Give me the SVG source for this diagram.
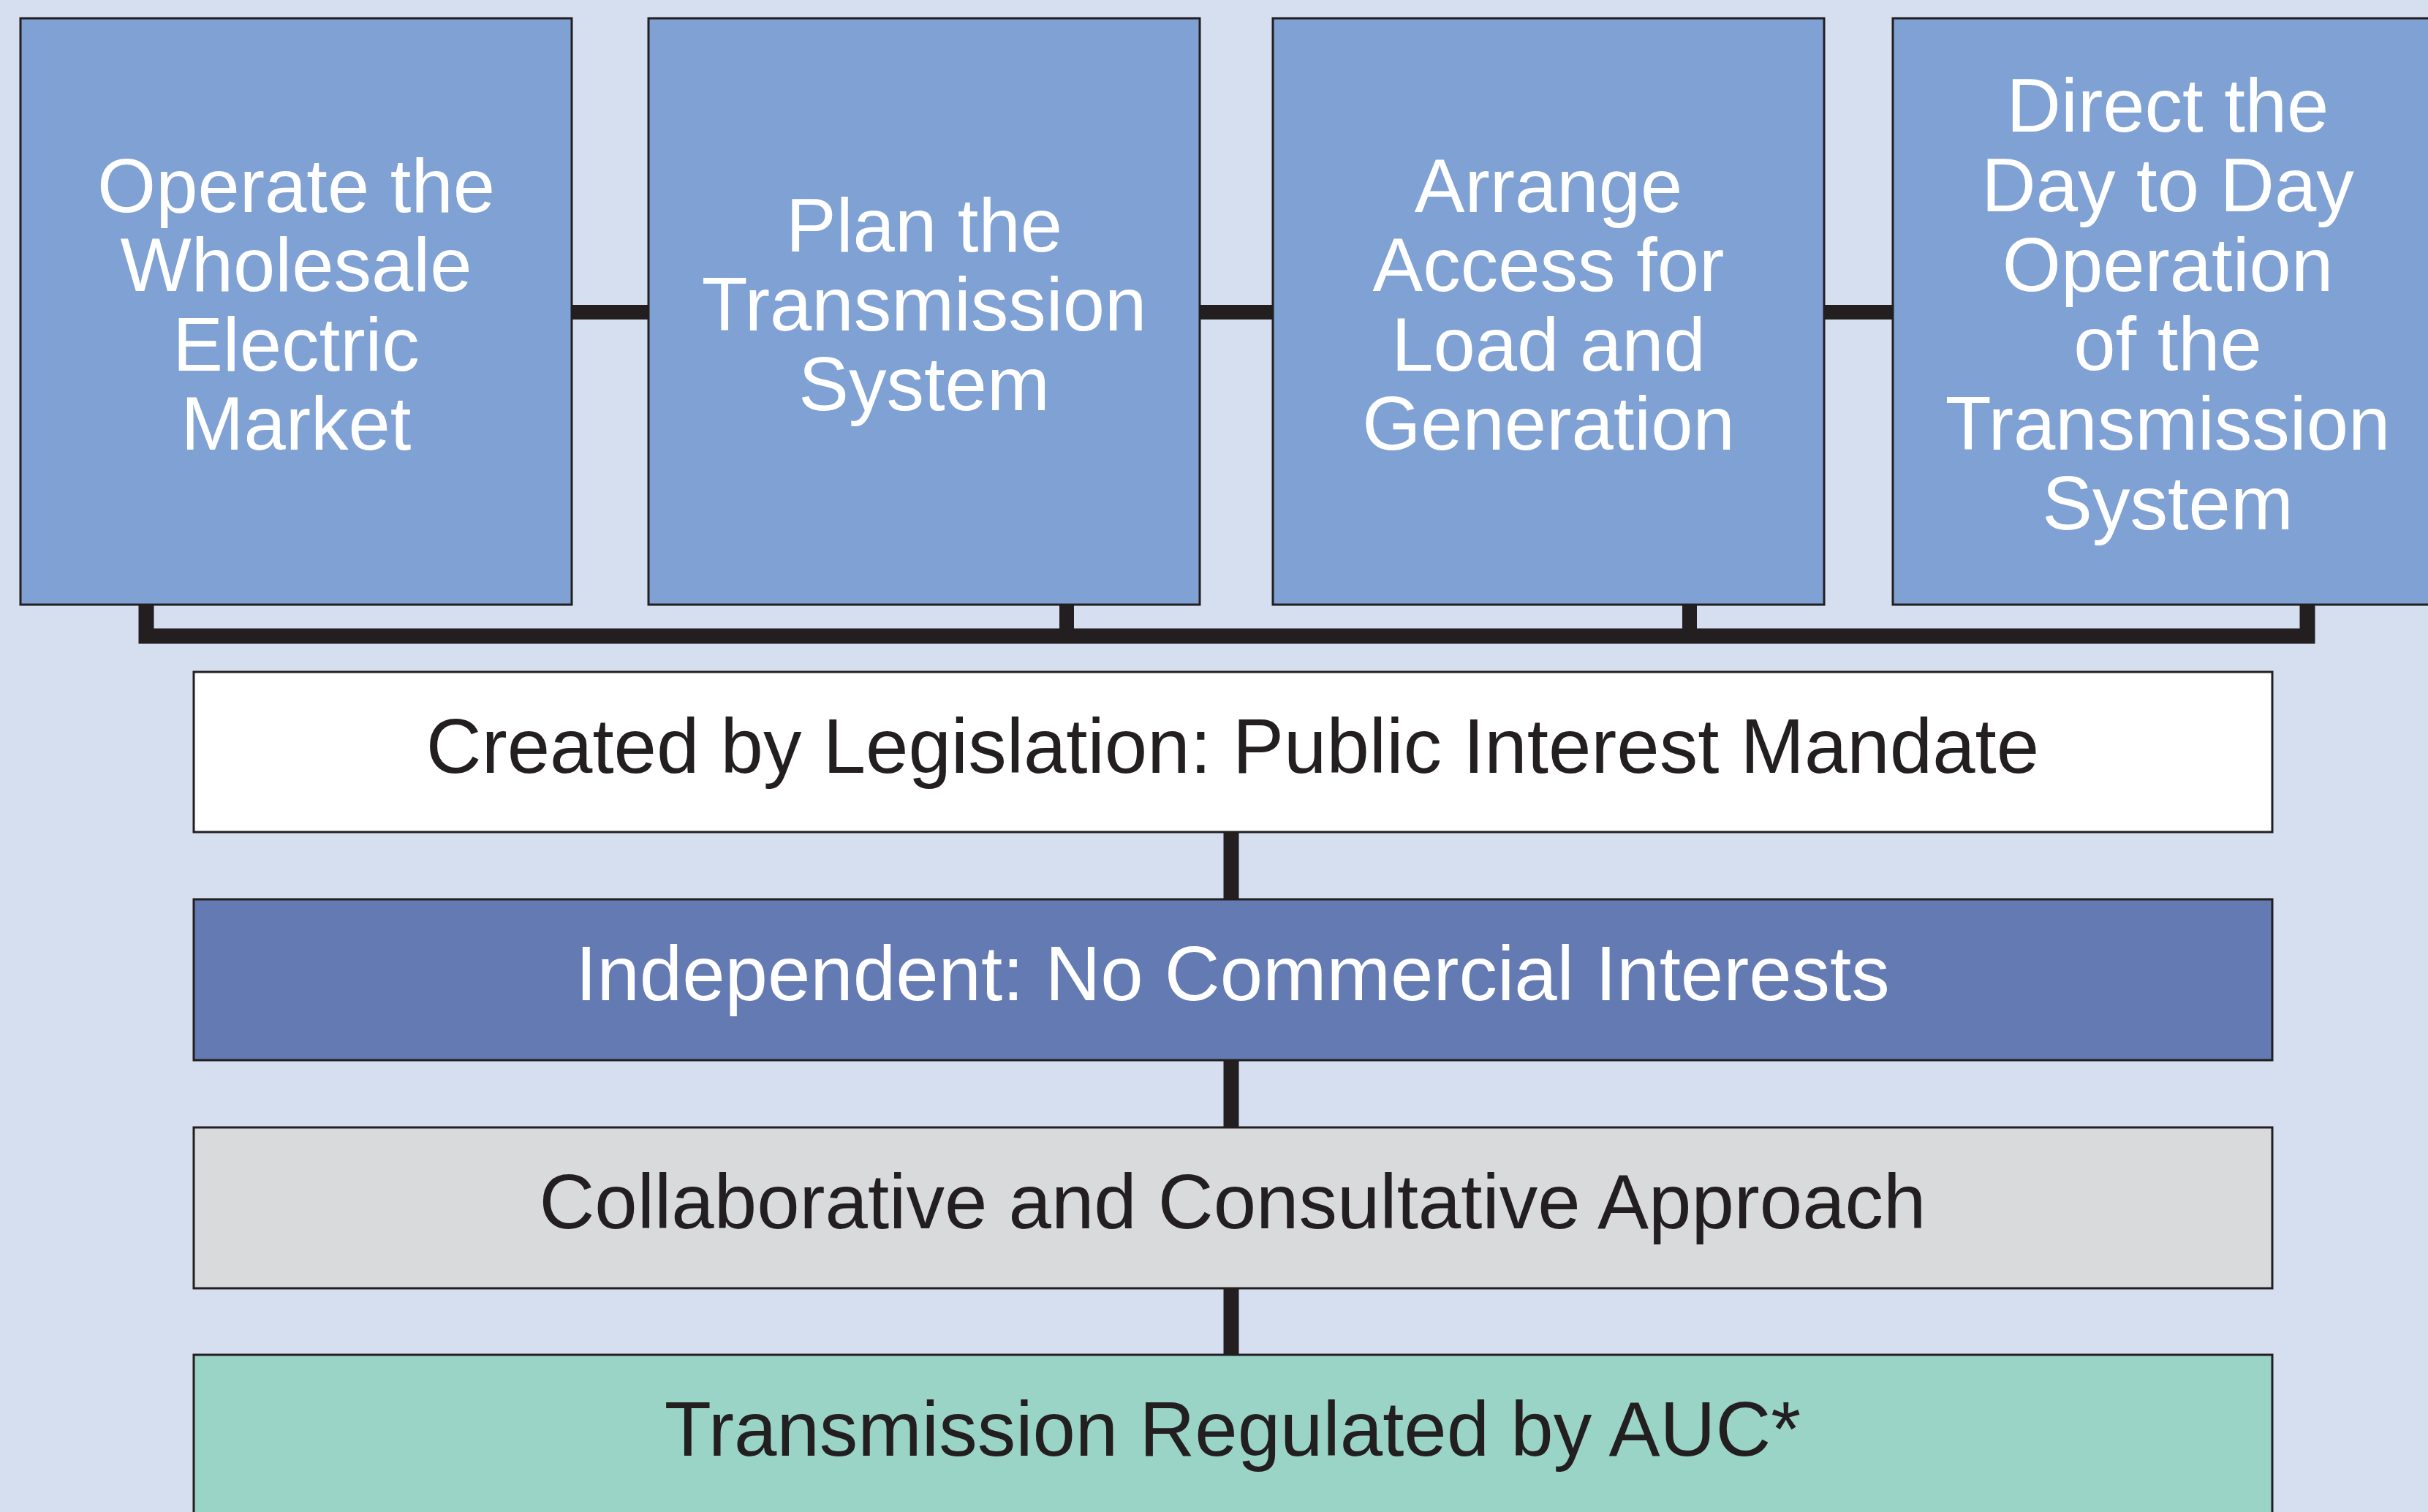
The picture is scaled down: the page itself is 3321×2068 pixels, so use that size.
<svg xmlns="http://www.w3.org/2000/svg" width="3321" height="2068" viewBox="0 0 3321 2068">
<style>
.box{stroke:#231f20;stroke-width:3}
.top{fill:#7fa1d3}
.tt{font-family:"Liberation Sans",Arial,Helvetica,sans-serif;font-size:103px;fill:#ffffff;text-anchor:middle}
.bt{font-family:"Liberation Sans",Arial,Helvetica,sans-serif;font-size:105px;text-anchor:middle}
.con{stroke:#231f20;fill:none}
</style>
<rect x="0" y="0" width="3321" height="2068" fill="#d6dff0"/>
<g id="connectors">
<line class="con" x1="780" y1="427" x2="889" y2="427" stroke-width="20"/>
<line class="con" x1="1640" y1="427" x2="1743" y2="427" stroke-width="20"/>
<line class="con" x1="2494" y1="427" x2="2591" y2="427" stroke-width="20"/>
<path class="con" d="M200 826 V870 H3156 V826" stroke-width="21"/>
<line class="con" x1="1459" y1="826" x2="1459" y2="870" stroke-width="20"/>
<line class="con" x1="2311" y1="826" x2="2311" y2="870" stroke-width="20"/>
<line class="con" x1="1684" y1="1138" x2="1684" y2="1230" stroke-width="21"/>
<line class="con" x1="1684" y1="1450" x2="1684" y2="1542" stroke-width="21"/>
<line class="con" x1="1684" y1="1762" x2="1684" y2="1853" stroke-width="21"/>
</g>
<g id="n1">
<rect class="box top" x="28" y="25" width="754" height="802"/>
<text class="tt"><tspan x="405" y="290">Operate the</tspan><tspan x="405" y="398">Wholesale</tspan><tspan x="405" y="507">Electric</tspan><tspan x="405" y="615">Market</tspan></text>
</g>
<g id="n2">
<rect class="box top" x="887" y="25" width="754" height="802"/>
<text class="tt"><tspan x="1264" y="344">Plan the</tspan><tspan x="1264" y="452">Transmission</tspan><tspan x="1264" y="561">System</tspan></text>
</g>
<g id="n3">
<rect class="box top" x="1741" y="25" width="754" height="802"/>
<text class="tt"><tspan x="2118" y="290">Arrange</tspan><tspan x="2118" y="398">Access for</tspan><tspan x="2118" y="507">Load and</tspan><tspan x="2118" y="615">Generation</tspan></text>
</g>
<g id="n4">
<rect class="box top" x="2589" y="25" width="760" height="802"/>
<text class="tt"><tspan x="2965" y="180">Direct the</tspan><tspan x="2965" y="289">Day to Day</tspan><tspan x="2965" y="398">Operation</tspan><tspan x="2965" y="506">of the</tspan><tspan x="2965" y="615">Transmission</tspan><tspan x="2965" y="724">System</tspan></text>
</g>
<g id="n5">
<rect class="box" x="265" y="919" width="2843" height="219" fill="#ffffff"/>
<text class="bt" x="1686" y="1057" fill="#231f20">Created by Legislation: Public Interest Mandate</text>
</g>
<g id="n6">
<rect class="box" x="265" y="1230" width="2843" height="220" fill="#647ab2"/>
<text class="bt" x="1686" y="1368" fill="#ffffff">Independent: No Commercial Interests</text>
</g>
<g id="n7">
<rect class="box" x="265" y="1542" width="2843" height="220" fill="#d9dadc"/>
<text class="bt" x="1686" y="1680" fill="#231f20">Collaborative and Consultative Approach</text>
</g>
<g id="n8">
<rect class="box" x="265" y="1853" width="2843" height="240" fill="#99d4c6"/>
<text class="bt" x="1686" y="1991" fill="#231f20">Transmission Regulated by AUC*</text>
</g>
</svg>
